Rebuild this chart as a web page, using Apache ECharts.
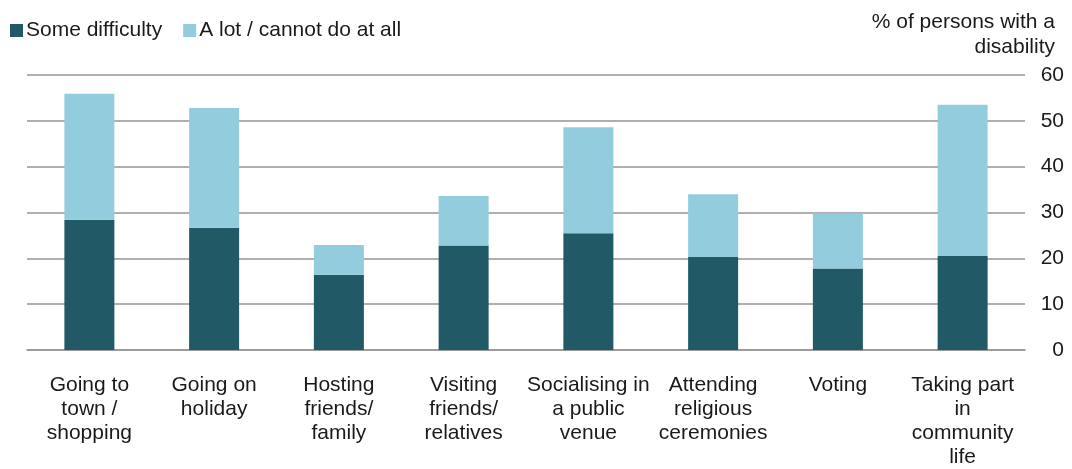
<!DOCTYPE html>
<html>
<head>
<meta charset="utf-8">
<script src="https://cdn.jsdelivr.net/npm/echarts@6/dist/echarts.min.js"></script>
<style>
  html, body { margin: 0; padding: 0; background: #ffffff; }
  #chart { width: 1072px; height: 469px; }
</style>
</head>
<body>
<div id="chart"></div>
<script>
// Activities, with line breaks as they appear under the axis
const categories = [
  'Going to\ntown /\nshopping',
  'Going on\nholiday',
  'Hosting\nfriends/\nfamily',
  'Visiting\nfriends/\nrelatives',
  'Socialising in\na public\nvenue',
  'Attending\nreligious\nceremonies',
  'Voting',
  'Taking part\nin\ncommunity\nlife'
];

// % of persons with a disability
const someDifficulty = [28.4, 26.7, 16.4, 22.8, 25.5, 20.3, 17.8, 20.5];
const aLotCannot     = [27.5, 26.1, 6.5, 10.8, 23.1, 13.7, 12.0, 33.0];

const yTicks = { min: 0, max: 60, interval: 10 };
const seriesNames = ['Some difficulty', 'A lot / cannot do at all'];
const unitLabel = '% of persons with a\ndisability';

const FONT = '"Liberation Sans", Arial, sans-serif';
const TEXT = '#1a1a1a';
const GRIDLINE = '#959595';

const chart = echarts.init(document.getElementById('chart'), null, { renderer: 'canvas' });

chart.setOption({
  animation: false,
  textStyle: { fontFamily: FONT, color: TEXT },
  legend: {
    left: 5,
    top: 15,
    itemWidth: 13,
    itemHeight: 13,
    itemGap: 21,
    icon: 'rect',
    textStyle: { fontFamily: FONT, fontSize: 21, color: TEXT, padding: [0, 0, 0, -2] },
    data: seriesNames
  },
  graphic: [{
    type: 'text',
    x: 1055,
    y: 10,
    style: {
      text: unitLabel,
      font: '21px ' + FONT,
      fill: TEXT,
      align: 'right',
      verticalAlign: 'top',
      lineHeight: 25
    }
  }],
  grid: { left: 27, right: 47, top: 75, bottom: 116 },
  xAxis: {
    type: 'category',
    data: categories,
    boundaryGap: true,
    axisLine: { show: true, lineStyle: { color: GRIDLINE, width: 1.5 } },
    axisTick: { show: false },
    axisLabel: {
      interval: 0,
      margin: 23,
      fontFamily: FONT,
      fontSize: 21,
      lineHeight: 24,
      color: TEXT,
      align: 'center'
    }
  },
  yAxis: {
    type: 'value',
    position: 'right',
    min: yTicks.min,
    max: yTicks.max,
    interval: yTicks.interval,
    axisLine: { show: false },
    axisTick: { show: false },
    splitLine: { show: true, lineStyle: { color: GRIDLINE, width: 1.5 } },
    axisLabel: {
      margin: 39,
      align: 'right',
      fontFamily: FONT,
      fontSize: 21,
      color: TEXT
    }
  },
  series: [
    {
      name: seriesNames[0],
      type: 'bar',
      stack: 'total',
      barWidth: 50,
      itemStyle: { color: '#215967' },
      data: someDifficulty
    },
    {
      name: seriesNames[1],
      type: 'bar',
      stack: 'total',
      barWidth: 50,
      itemStyle: { color: '#93CDDD' },
      data: aLotCannot
    }
  ]
});
</script>
</body>
</html>
